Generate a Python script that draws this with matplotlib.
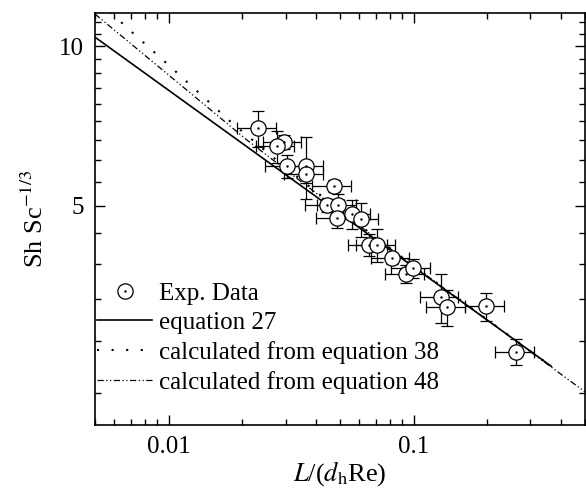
import numpy as np
import matplotlib
matplotlib.use("Agg")
import matplotlib.pyplot as plt
from matplotlib.ticker import FixedLocator, NullFormatter, FixedFormatter
from matplotlib.lines import Line2D

plt.rcParams['font.family'] = ['Liberation Serif', 'DejaVu Serif']
plt.rcParams['mathtext.fontset'] = 'stix'

x_exp = [0.0232, 0.0295, 0.0276, 0.0303, 0.0362, 0.0362, 0.0471, 0.0441, 0.0493, 0.0488,
         0.0562, 0.0608, 0.0658, 0.0712, 0.0815, 0.0930, 0.0990, 0.129, 0.137, 0.198, 0.263]
y_exp = [7.00, 6.60, 6.48, 5.93, 5.94, 5.73, 5.45, 5.01, 5.01, 4.74,
         4.83, 4.72, 4.22, 4.22, 3.98, 3.72, 3.81, 3.36, 3.22, 3.23, 2.65]
yerr_exp = [0.55, 0.2, 0.45, 0.3, 0.8, 0.2, 0.15, 0.15, 0.25, 0.2,
            0.3, 0.35, 0.2, 0.3, 0.1, 0.15, 0.15, 0.35, 0.25, 0.2, 0.15]
xerr_rel = 0.18

# equation 27
x_eq27 = [0.005, 0.365]
y_eq27 = [10.4, 2.49]

# calculated from equation 38
x_eq38 = [0.0058, 0.0067, 0.010, 0.0176, 0.030, 0.050, 0.100, 0.360]
y_eq38 = [11.6, 10.87, 9.21, 7.25, 5.90, 4.90, 3.85, 2.50]

# calculated from equation 48
x_eq48 = [0.0050, 0.0100, 0.0209, 0.030, 0.050, 0.100, 0.500]
y_eq48 = [11.50, 8.82, 6.65, 5.85, 4.88, 3.85, 2.23]

fig = plt.figure(figsize=(5.86, 4.98), dpi=100)
ax = fig.add_axes([0.162, 0.1466, 0.836, 0.8274])

xe = np.array(x_exp)
ax.errorbar(x_exp, y_exp, xerr=xerr_rel * xe, yerr=yerr_exp, fmt='o', ms=11,
            mfc='white', mec='black', mew=0.9, ecolor='black', elinewidth=0.9,
            capsize=4, capthick=0.9, zorder=3)
ax.plot(x_exp, y_exp, '.', color='black', ms=1.5, zorder=4)

l27, = ax.plot(x_eq27, y_eq27, '-', color='black', lw=1.2)
l38, = ax.plot(x_eq38, y_eq38, color='black', lw=1.5, linestyle=(0, (1, 6)))
l48, = ax.plot(x_eq48, y_eq48, color='black', lw=0.9, linestyle=(0, (5, 2, 1, 2, 1, 2)))

ax.set_xscale('log')
ax.set_yscale('log')
ax.set_xlim(0.005, 0.5)
ax.set_ylim(1.93, 11.55)

ax.set_xticks([0.01, 0.1])
ax.set_xticklabels(['0.01', '0.1'])
ax.yaxis.set_major_locator(FixedLocator([5, 10]))
ax.yaxis.set_major_formatter(FixedFormatter(['5', '10']))
ax.yaxis.set_minor_locator(FixedLocator([5 + k * 5 / 9 for k in range(-6, 12) if k % 9 != 0]))
ax.yaxis.set_minor_formatter(NullFormatter())
ax.xaxis.set_minor_formatter(NullFormatter())

ax.tick_params(which='both', direction='in', top=True, right=True, labelsize=18, width=1)
ax.tick_params(which='major', length=7, pad=8)
ax.tick_params(which='minor', length=4)
for s in ax.spines.values():
    s.set_linewidth(1.2)

ax.set_xlabel(r'$L$/($d_{\mathrm{h}}$Re)', fontsize=19, labelpad=1)
ax.set_ylabel(r'Sh Sc$^{-1/3}$', fontsize=19, labelpad=8)

h_circ = Line2D([], [], marker='o', ls='none', ms=11, mfc='white', mec='black', mew=0.9)
h_dot = Line2D([], [], marker='.', ls='none', ms=1.5, color='black')
ax.legend([(h_circ, h_dot), l27, l38, l48],
          ['Exp. Data', 'equation 27', 'calculated from equation 38',
           'calculated from equation 48'],
          loc='upper left', bbox_to_anchor=(0.0, 0.353), frameon=False, fontsize=18,
          borderaxespad=0, borderpad=0.1, handlelength=2.2, handletextpad=0.25,
          labelspacing=0.28)

fig.savefig('out.png', dpi=100)
